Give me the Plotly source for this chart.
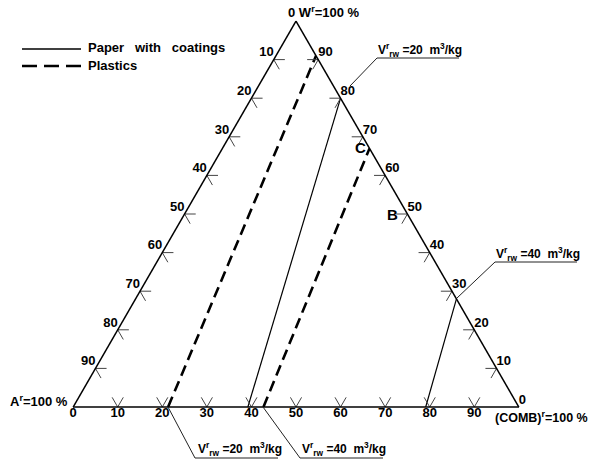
import plotly.graph_objects as go

# Ternary composition, percent: A = ash (bottom-left), W = moisture (top),
# COMB = combustibles (bottom-right)
tick_values = [10, 20, 30, 40, 50, 60, 70, 80, 90]
bottom_label_values = [0, 10, 20, 30, 40, 50, 60, 70, 80, 90]

# Isolines of the specific flue-gas volume V_rw (end points on the triangle edges)
paper_v20_A = [60.8, 0.0]
paper_v20_W = [0.0, 80.0]
paper_v20_COMB = [39.2, 20.0]

paper_v40_A = [20.9, 0.0]
paper_v40_W = [0.0, 28.0]
paper_v40_COMB = [79.1, 72.0]

plastics_v20_A = [78.7, 0.0]
plastics_v20_W = [0.0, 91.0]
plastics_v20_COMB = [21.3, 9.0]

plastics_v40_A = [57.3, 0.0]
plastics_v40_W = [0.0, 67.0]
plastics_v40_COMB = [42.7, 33.0]

W_PX, H_PX = 592, 463
FONT = "Liberation Sans, Arial, sans-serif"
ARM = 2.5  # tick chevron arm length, percent units


def px(x):
    return x / W_PX


def py(y):
    return 1 - y / H_PX


fig = go.Figure()


def add_line(A, W, C, dash, width):
    fig.add_trace(go.Scatterternary(
        a=W, b=A, c=C, mode="lines",
        line=dict(color="black", width=width, dash=dash),
        hoverinfo="skip", showlegend=False))


add_line(paper_v20_A, paper_v20_W, paper_v20_COMB, "solid", 1.2)
add_line(paper_v40_A, paper_v40_W, paper_v40_COMB, "solid", 1.2)
add_line(plastics_v20_A, plastics_v20_W, plastics_v20_COMB, "11px,6px", 2.6)
add_line(plastics_v40_A, plastics_v40_W, plastics_v40_COMB, "11px,6px", 2.6)

# chevron ticks: two short grid-line stubs pointing into the triangle
ta, tb, tc = [], [], []
for t in tick_values:
    # left edge (A axis)
    for (A, W, C) in [(t - ARM, 100 - t, ARM), (t, 100 - t, 0), (t, 100 - t - ARM, ARM)]:
        ta.append(W); tb.append(A); tc.append(C)
    ta.append(None); tb.append(None); tc.append(None)
    # right edge (W axis)
    for (A, W, C) in [(ARM, t, 100 - t - ARM), (0, t, 100 - t), (ARM, t - ARM, 100 - t)]:
        ta.append(W); tb.append(A); tc.append(C)
    ta.append(None); tb.append(None); tc.append(None)
    # bottom edge (COMB axis)
    for (A, W, C) in [(100 - t - ARM, ARM, t), (100 - t, 0, t), (100 - t, ARM, t - ARM)]:
        ta.append(W); tb.append(A); tc.append(C)
    ta.append(None); tb.append(None); tc.append(None)

fig.add_trace(go.Scatterternary(
    a=ta, b=tb, c=tc, mode="lines", connectgaps=False,
    line=dict(color="#444444", width=1), hoverinfo="skip", showlegend=False))

label_font = dict(family=FONT, size=13, color="black", weight="bold")

# left edge labels: A values
fig.add_trace(go.Scatterternary(
    a=[100 - t for t in tick_values], b=tick_values, c=[0] * len(tick_values),
    mode="text", text=[str(t) for t in tick_values], textposition="top left",
    textfont=label_font, cliponaxis=False, hoverinfo="skip", showlegend=False))

# right edge labels: W values
right_vals = tick_values + [0]
fig.add_trace(go.Scatterternary(
    a=right_vals, b=[0] * len(right_vals), c=[100 - t for t in right_vals],
    mode="text", text=[str(t) for t in right_vals], textposition="top right",
    textfont=label_font, cliponaxis=False, hoverinfo="skip", showlegend=False))

# bottom edge labels: COMB values
fig.add_trace(go.Scatterternary(
    a=[0] * len(bottom_label_values), b=[100 - t for t in bottom_label_values],
    c=bottom_label_values,
    mode="text", text=[str(t) for t in bottom_label_values], textposition="bottom center",
    textfont=label_font, cliponaxis=False, hoverinfo="skip", showlegend=False))

axis_style = dict(showticklabels=False, ticks="", showgrid=False, showline=True,
                  linecolor="black", linewidth=1.5, title=dict(text=""))

fig.update_layout(
    width=W_PX, height=H_PX,
    margin=dict(l=0, r=0, t=0, b=0),
    paper_bgcolor="white", plot_bgcolor="white",
    showlegend=False,
    ternary=dict(
        sum=100,
        domain=dict(x=[px(73), px(519)], y=[py(407), py(21)]),
        bgcolor="white",
        aaxis=axis_style, baxis=axis_style, caxis=axis_style,
    ),
)

annotations = []


def note(text, x, y, xanchor="left", size=13):
    annotations.append(dict(
        text=text, x=px(x), y=py(y), xref="paper", yref="paper",
        xanchor=xanchor, yanchor="middle", showarrow=False,
        font=dict(family=FONT, size=size, color="black", weight="bold")))


note("0 W<sup>r</sup>=100 %", 286, 12)
note("A<sup>r</sup>=100 %", 70, 401, xanchor="right")
note("(COMB)<sup>r</sup>=100 %", 590, 417, xanchor="right", size=12.5)
note("C", 360, 147, xanchor="center", size=15)
note("B", 392, 214, xanchor="center", size=15)

# legend
note("Paper\u00a0\u00a0 with\u00a0\u00a0 coatings", 86, 48)
note("Plastics", 86, 66)

v20 = "V<sup>r</sup><sub>rw</sub> =20\u00a0 m<sup>3</sup>/kg"
v40 = "V<sup>r</sup><sub>rw</sub> =40\u00a0 m<sup>3</sup>/kg"
note(v20, 376, 50, size=12)
note(v40, 494, 254, size=12)
note(v20, 196, 449, size=12)
note(v40, 300, 449, size=12)

fig.update_layout(annotations=annotations)

shapes = []


def seg(x0, y0, x1, y1, width=1, dash="solid", color="#222222"):
    shapes.append(dict(type="line", xref="paper", yref="paper",
                       x0=px(x0), y0=py(y0), x1=px(x1), y1=py(y1),
                       line=dict(color=color, width=width, dash=dash)))


# legend samples
seg(22, 49, 81, 49, width=1.5, color="black")
seg(22, 66, 81, 66, width=2.6, dash="15px,7px", color="black")

# leader lines for the isoline labels
seg(350, 86, 377, 58); seg(377, 58, 459, 58)
seg(457, 298, 495, 262); seg(495, 262, 577, 262)
seg(168, 407, 195, 458); seg(195, 458, 278, 458)
seg(263, 407, 300, 458); seg(300, 458, 383, 458)

fig.update_layout(shapes=shapes)

fig.write_html("out.html")
